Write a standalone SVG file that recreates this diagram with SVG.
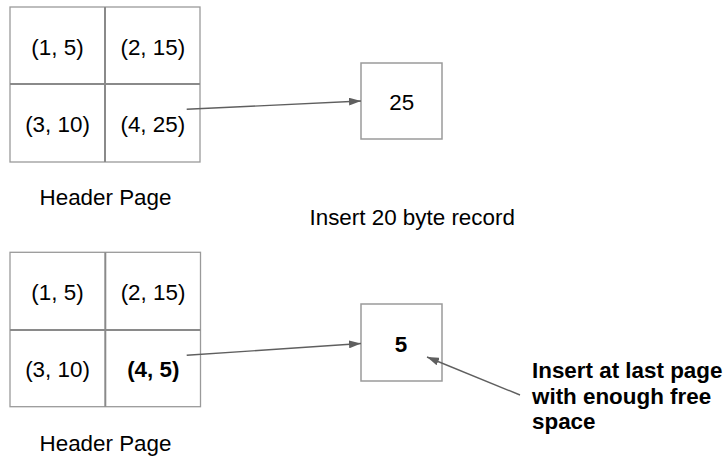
<svg xmlns="http://www.w3.org/2000/svg" width="725" height="456" viewBox="0 0 725 456">
  <style>
    .cell { fill: #ffffff; stroke: #9a9a9a; stroke-width: 1.3; }
    .div { stroke: #8a8a8a; stroke-width: 2; fill: none; }
    .box { fill: #ffffff; stroke: #9a9a9a; stroke-width: 1.5; }
    .t { font-family: "Liberation Sans", Arial, sans-serif; font-size: 22.4px; fill: #000000; text-anchor: middle; }
    .b { font-weight: bold; }
    .l { text-anchor: start; }
    .conn { stroke: #5f5f5f; stroke-width: 1.4; fill: none; marker-end: url(#arr); }
  </style>
  <defs>
    <marker id="arr" viewBox="0 0 12 8" refX="12" refY="4" markerWidth="12" markerHeight="8" markerUnits="userSpaceOnUse" orient="auto">
      <path d="M0,0 L12,4 L0,8 z" fill="#5f5f5f"/>
    </marker>
  </defs>
  <rect width="725" height="456" fill="#ffffff"/>

  <g id="header-page-top">
    <rect class="cell" x="10" y="7" width="190" height="155"/>
    <line class="div" x1="105" y1="7" x2="105" y2="162"/>
    <line class="div" x1="10" y1="84" x2="200" y2="84"/>
    <text class="t" x="57.5" y="55">(1, 5)</text>
    <text class="t" x="152.8" y="55">(2, 15)</text>
    <text class="t" x="57.5" y="132">(3, 10)</text>
    <text class="t" x="152.8" y="132">(4, 25)</text>
  </g>
  <g id="label-header-top">
    <text class="t" x="105.5" y="205">Header Page</text>
  </g>

  <g id="page-25">
    <rect class="box" x="361" y="63" width="81" height="76"/>
    <text class="t" x="401.7" y="110">25</text>
  </g>

  <g id="label-insert">
    <text class="t l" x="309.5" y="225">Insert 20 byte record</text>
  </g>

  <g id="header-page-bottom">
    <rect class="cell" x="10" y="252.3" width="190.5" height="154.4"/>
    <line class="div" x1="105.3" y1="252.3" x2="105.3" y2="406.7"/>
    <line class="div" x1="10" y1="330" x2="200.5" y2="330"/>
    <text class="t" x="57.5" y="300">(1, 5)</text>
    <text class="t" x="153" y="300">(2, 15)</text>
    <text class="t" x="57.5" y="377">(3, 10)</text>
    <text class="t b" x="153.3" y="377">(4, 5)</text>
  </g>
  <g id="label-header-bottom">
    <text class="t" x="105.5" y="451">Header Page</text>
  </g>

  <g id="page-5">
    <rect class="box" x="361" y="304" width="81" height="77"/>
    <text class="t b" x="401" y="352">5</text>
  </g>

  <g id="label-last-page">
    <text class="t b l" x="532" y="378">Insert at last page</text>
    <text class="t b l" x="532" y="403.5">with enough free</text>
    <text class="t b l" x="532" y="429">space</text>
  </g>

  <g id="connectors">
    <line class="conn" x1="186.7" y1="109.3" x2="361" y2="101"/>
    <line class="conn" x1="186.7" y1="355.3" x2="361" y2="343.5"/>
    <line class="conn" x1="520" y1="395" x2="427" y2="357"/>
  </g>
</svg>
